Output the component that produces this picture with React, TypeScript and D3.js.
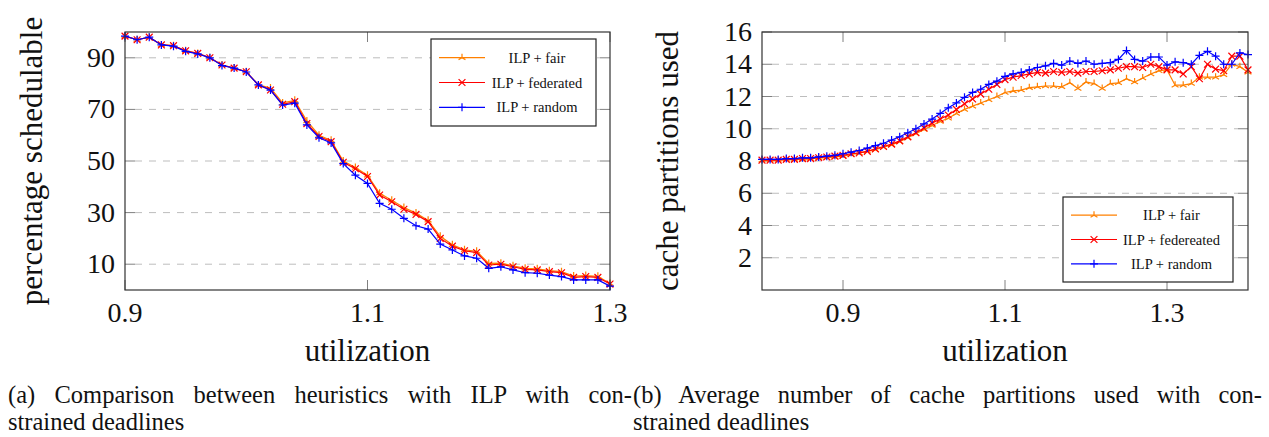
import * as d3 from 'd3';
import { useEffect, useRef } from 'react';

// left panel: percentage schedulable vs utilization (0.90 .. 1.30, step 0.01)
const leftX = d3.range(0, 41).map((i) => +(0.9 + i * 0.01).toFixed(2));
const leftFair = [98.4, 97, 98, 95, 94.7, 92.7, 91.7, 90, 87.2, 86, 84.6, 79.5, 78.3, 72.5, 73.5, 65.5, 60, 58, 50, 47.5, 44.5, 37.5, 34.8, 32, 29.8, 27, 20.8, 17.5, 15.6, 15, 10.3, 10.4, 9.4, 8.4, 8.2, 7.5, 7.1, 5.4, 5.6, 5.3, 2.5];
const leftFederated = [98.4, 97, 98, 95, 94.7, 92.7, 91.7, 90, 87.2, 86, 84.6, 79.5, 77.5, 72, 73, 64.5, 59.5, 57.5, 49.5, 47, 44, 36.8, 34.2, 31.3, 29.3, 26.5, 20, 17, 15.2, 14.5, 9.7, 10, 9, 8, 7.8, 7.1, 6.7, 4.9, 5.2, 4.9, 2.3];
const leftRandom = [98.4, 97, 98, 95, 94.5, 92.5, 91.5, 90, 87, 86, 84.5, 79.5, 77.5, 71.7, 72.4, 64, 59, 57, 49, 44.5, 41.3, 33.6, 31.3, 27.8, 24.9, 23.6, 17.8, 15.5, 13.2, 12.3, 8.4, 9, 7.8, 6.7, 6.5, 5.8, 5.2, 3.9, 3.9, 3.9, 1.5];
const leftYTicks = [10, 30, 50, 70, 90];
const xTicks = [0.9, 1.1, 1.3];

// right panel: cache partitions used vs utilization (0.80 .. 1.40, step 0.01)
const rightX = d3.range(0, 61).map((i) => +(0.8 + i * 0.01).toFixed(2));
const rightFair = [8.05, 8.05, 8.05, 8.1, 8.1, 8.1, 8.15, 8.2, 8.2, 8.25, 8.3, 8.4, 8.5, 8.6, 8.7, 8.85, 9.0, 9.2, 9.45, 9.7, 9.95, 10.2, 10.45, 10.65, 10.95, 11.2, 11.4, 11.6, 11.8, 12.0, 12.25, 12.35, 12.4, 12.55, 12.6, 12.65, 12.65, 12.6, 12.85, 12.5, 12.9, 12.8, 12.5, 12.8, 12.85, 13.1, 12.9, 13.15, 13.4, 13.6, 13.65, 12.7, 12.7, 12.8, 13.2, 13.2, 13.2, 13.35, 14.0, 13.85, 13.5];
const rightFederated = [8.05, 8.05, 8.05, 8.1, 8.1, 8.15, 8.15, 8.2, 8.25, 8.3, 8.35, 8.45, 8.5, 8.6, 8.75, 8.9, 9.05, 9.25, 9.5, 9.75, 10.05, 10.35, 10.6, 10.85, 11.2, 11.55, 11.85, 12.15, 12.45, 12.75, 13.05, 13.2, 13.3, 13.4, 13.5, 13.45, 13.55, 13.5, 13.55, 13.45, 13.55, 13.55, 13.6, 13.65, 13.75, 13.85, 13.85, 13.8, 14.0, 13.85, 13.65, 13.65, 13.4, 13.85, 13.1, 14.0, 13.7, 13.6, 14.5, 14.5, 13.65];
const rightRandom = [8.1, 8.1, 8.1, 8.15, 8.15, 8.2, 8.2, 8.25, 8.3, 8.35, 8.45, 8.55, 8.65, 8.8, 8.95, 9.1, 9.3, 9.5, 9.75, 10.0, 10.3, 10.6, 10.95, 11.3, 11.6, 11.95, 12.25, 12.45, 12.75, 12.95, 13.25, 13.4, 13.5, 13.65, 13.8, 13.9, 14.05, 13.95, 14.2, 14.05, 14.2, 14.0, 14.05, 14.1, 14.3, 14.85, 14.3, 14.2, 14.45, 14.45, 13.95, 14.15, 14.1, 14.0, 14.55, 14.8, 14.5, 14.0, 14.0, 14.7, 14.6];
const rightYTicks = [2, 4, 6, 8, 10, 12, 14, 16];

const leftLegend = ['ILP + fair', 'ILP + federated', 'ILP + random'];
const rightLegend = ['ILP + fair', 'ILP + federeated', 'ILP + random'];
const colors = ['#ff8000', '#ff0000', '#0000ff'];
const markers = ['star', 'cross', 'plus'];

const serif = '"Liberation Serif", "Times New Roman", serif';

type Panel = {
  x0: number; x1: number; y0: number; y1: number;
  xDomain: [number, number]; yDomain: [number, number];
  xs: number[]; series: number[][];
  yTicks: number[]; grid: number[];
  yLabel: string; yLabelX: number;
  legend: string[]; legendBox: [number, number, number, number];
};

const drawMarker = (g: any, kind: string, x: number, y: number, color: string) => {
  const r = 4;
  let d = '';
  if (kind === 'plus') d = `M${x - r},${y}H${x + r}M${x},${y - r}V${y + r}`;
  else if (kind === 'cross') {
    const s = r * 0.85;
    d = `M${x - s},${y - s}L${x + s},${y + s}M${x - s},${y + s}L${x + s},${y - s}`;
  } else {
    const a = r * Math.cos(Math.PI / 6);
    d = `M${x},${y}V${y - r}M${x},${y}L${x - a},${y + r / 2}M${x},${y}L${x + a},${y + r / 2}`;
  }
  g.append('path').attr('d', d).attr('stroke', color).attr('stroke-width', 1.2).attr('fill', 'none');
};

const App = () => {
  const ref = useRef<SVGSVGElement | null>(null);

  useEffect(() => {
    const svg = d3.select(ref.current);
    svg.selectAll('*').remove();

    const panels: Panel[] = [
      {
        x0: 125, x1: 610, y0: 32, y1: 290,
        xDomain: [0.9, 1.3], yDomain: [0, 100],
        xs: leftX, series: [leftFair, leftFederated, leftRandom],
        yTicks: leftYTicks, grid: leftYTicks,
        yLabel: 'percentage schedulable', yLabelX: 42,
        legend: leftLegend, legendBox: [431, 39, 596, 126],
      },
      {
        x0: 762, x1: 1248, y0: 32, y1: 290,
        xDomain: [0.8, 1.4], yDomain: [0, 16],
        xs: rightX, series: [rightFair, rightFederated, rightRandom],
        yTicks: rightYTicks, grid: rightYTicks.filter((t) => t < 16),
        yLabel: 'cache partitions used', yLabelX: 678,
        legend: rightLegend, legendBox: [1063, 197, 1233, 282],
      },
    ];

    panels.forEach((p) => {
      const x = d3.scaleLinear().domain(p.xDomain).range([p.x0, p.x1]);
      const y = d3.scaleLinear().domain(p.yDomain).range([p.y1, p.y0]);
      const g = svg.append('g');

      // dashed horizontal grid
      g.selectAll('line.grid')
        .data(p.grid)
        .join('line')
        .attr('x1', p.x0 + 10)
        .attr('x2', p.x1 - 10)
        .attr('y1', (d) => y(d))
        .attr('y2', (d) => y(d))
        .attr('stroke', '#bdbdbd')
        .attr('stroke-width', 1)
        .attr('stroke-dasharray', '7,7');

      // ticks on all four sides
      const tickColor = '#808080';
      p.yTicks.forEach((t) => {
        g.append('line').attr('x1', p.x0).attr('x2', p.x0 + 10).attr('y1', y(t)).attr('y2', y(t)).attr('stroke', tickColor);
        g.append('line').attr('x1', p.x1 - 10).attr('x2', p.x1).attr('y1', y(t)).attr('y2', y(t)).attr('stroke', tickColor);
        g.append('text')
          .attr('x', p.x0 - 10)
          .attr('y', y(t) + 9)
          .attr('text-anchor', 'end')
          .attr('font-family', serif)
          .attr('font-size', 28)
          .attr('fill', '#111')
          .text(String(t));
      });
      xTicks.forEach((t) => {
        g.append('line').attr('x1', x(t)).attr('x2', x(t)).attr('y1', p.y1).attr('y2', p.y1 - 10).attr('stroke', tickColor);
        g.append('line').attr('x1', x(t)).attr('x2', x(t)).attr('y1', p.y0).attr('y2', p.y0 + 10).attr('stroke', tickColor);
        g.append('text')
          .attr('x', x(t))
          .attr('y', 322)
          .attr('text-anchor', 'middle')
          .attr('font-family', serif)
          .attr('font-size', 28)
          .attr('fill', '#111')
          .text(d3.format('.1f')(t));
      });

      // series
      const clipId = `clip-${p.x0}`;
      svg.append('clipPath').attr('id', clipId)
        .append('rect').attr('x', p.x0 - 6).attr('y', p.y0 - 6).attr('width', p.x1 - p.x0 + 12).attr('height', p.y1 - p.y0 + 12);
      const sg = g.append('g').attr('clip-path', `url(#${clipId})`);
      p.series.forEach((vals, si) => {
        const line = d3.line<number>().x((_, i) => x(p.xs[i])).y((d) => y(d));
        sg.append('path').attr('d', line(vals)).attr('fill', 'none').attr('stroke', colors[si]).attr('stroke-width', 1.2);
        vals.forEach((v, i) => drawMarker(sg, markers[si], x(p.xs[i]), y(v), colors[si]));
      });

      // frame
      g.append('rect')
        .attr('x', p.x0).attr('y', p.y0)
        .attr('width', p.x1 - p.x0).attr('height', p.y1 - p.y0)
        .attr('fill', 'none').attr('stroke', '#333').attr('stroke-width', 1.2);

      // axis labels
      g.append('text')
        .attr('x', (p.x0 + p.x1) / 2)
        .attr('y', 361)
        .attr('text-anchor', 'middle')
        .attr('font-family', serif)
        .attr('font-size', 31)
        .attr('fill', '#111')
        .text('utilization');
      g.append('text')
        .attr('transform', `translate(${p.yLabelX},161) rotate(-90)`)
        .attr('text-anchor', 'middle')
        .attr('font-family', serif)
        .attr('font-size', 31)
        .attr('fill', '#111')
        .text(p.yLabel);

      // legend
      const [lx0, ly0, lx1, ly1] = p.legendBox;
      g.append('rect')
        .attr('x', lx0).attr('y', ly0).attr('width', lx1 - lx0).attr('height', ly1 - ly0)
        .attr('fill', '#fff').attr('stroke', '#222').attr('stroke-width', 1.2);
      const rowH = (ly1 - ly0) / 3.5;
      p.legend.forEach((name, i) => {
        const cy = ly0 + rowH * (0.75 + i);
        g.append('line').attr('x1', lx0 + 8).attr('x2', lx0 + 54).attr('y1', cy).attr('y2', cy)
          .attr('stroke', colors[i]).attr('stroke-width', 1.2);
        drawMarker(g, markers[i], lx0 + 31, cy, colors[i]);
        g.append('text')
          .attr('x', lx0 + 106 + (lx1 - lx0 - 165) / 2)
          .attr('y', cy + 5)
          .attr('text-anchor', 'middle')
          .attr('font-family', serif)
          .attr('font-size', 14.5)
          .attr('fill', '#111')
          .text(name);
      });
    });

    // captions (first line justified with word spacing)
    const captions: [number, number, string, number][] = [
      [8, 403, '(a) Comparison between heuristics with ILP with con-', 624],
      [8, 430, 'strained deadlines', 0],
      [633, 403, '(b) Average number of cache partitions used with con-', 629],
      [633, 430, 'strained deadlines', 0],
    ];
    captions.forEach(([cx, cy, txt, len]) => {
      const t = svg.append('text')
        .attr('x', cx)
        .attr('y', cy)
        .attr('font-family', serif)
        .attr('font-size', 24.5)
        .attr('fill', '#111')
        .text(txt);
      if (len > 0) {
        const node = t.node() as SVGTextElement;
        const w = node.getComputedTextLength();
        const gaps = txt.split(' ').length - 1;
        t.attr('word-spacing', Math.max(0, (len - w) / gaps));
      }
    });
  }, []);

  return (
    <svg
      ref={ref}
      width={1269}
      height={437}
      style={{ position: 'absolute', left: 0, top: 0, background: '#fff' }}
    ></svg>
  );
};

export default App;
